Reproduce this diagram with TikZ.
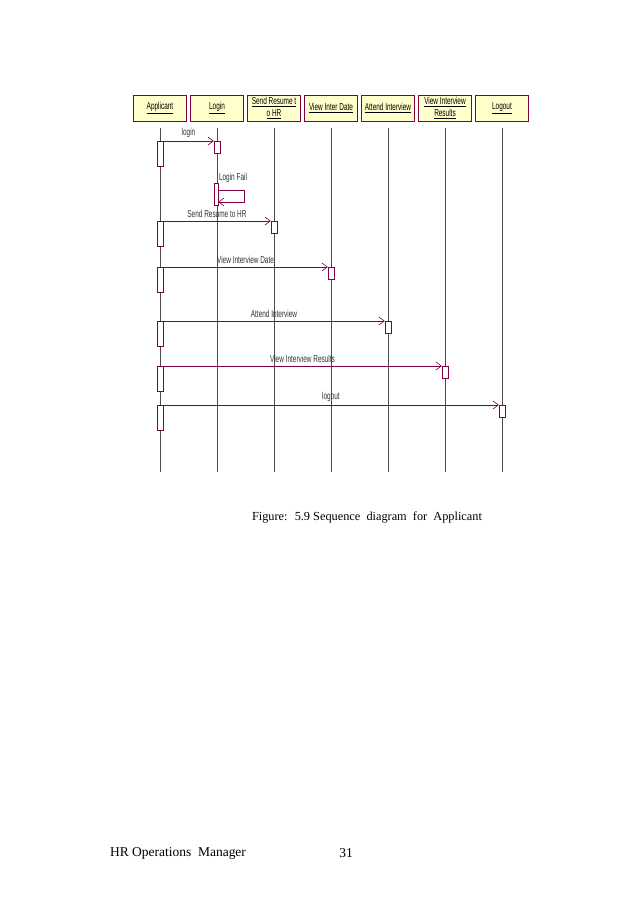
\documentclass[tikz,border=0pt]{standalone}
\usepackage{fontspec}
\setmainfont{Liberation Serif}
\newfontfamily\umlfont[FakeStretch=0.64]{Liberation Sans}
\usepackage{tikz}
\usetikzlibrary{arrows.meta}
\definecolor{umlred}{RGB}{128,0,64}
\definecolor{umlfill}{RGB}{255,255,204}

\begin{document}
\begin{tikzpicture}[x=0.03cm, y=-0.03cm,
    obj/.style={draw=umlred, fill=umlfill, rectangle, minimum width=1.59cm, minimum height=0.78cm,
      inner sep=0.5pt, align=center, font=\umlfont\fontsize{8.6}{9.6}\selectfont},
    life/.style={black!70, line width=0.5pt},
    act/.style={draw=umlred, fill=white, rectangle, inner sep=0, minimum width=0.18cm, anchor=north},
    src/.style={act, minimum height=0.75cm},
    tgt/.style={act, minimum height=0.36cm},
    msg/.style={umlred, line width=0.5pt, -{Straight Barb[length=1.6mm, width=2.4mm]}},
    lbl/.style={text=black!80, font=\umlfont\fontsize{8.6}{9.6}\selectfont, inner sep=0.5pt, above=2.5pt}]
    \useasboundingbox (0,0) rectangle (638,903);
    \fill[white] (0,0) rectangle (638,903);

    % objects
    \node[obj] (app) at (160,108) {\underline{Applicant}};
    \node[obj] (login) at (217,108) {\underline{Login}};
    \node[obj] (resume) at (274,108) {\underline{Send Resume t}\\\underline{o HR}};
    \node[obj] (date) at (331,108) {\underline{View Inter Date}};
    \node[obj] (attend) at (388,108) {\underline{Attend Interview}};
    \node[obj] (result) at (445,108) {\underline{View Interview}\\\underline{Results}};
    \node[obj] (logout) at (502,108) {\underline{Logout}};

    \coordinate (bottom) at (0,472);
    \foreach \n in {app,login,resume,date,attend,result,logout}{
      \draw[life] (\n.south) ++(0,7) -- (\n.south |- bottom);
    }

    % activations
    \node[src] (s1) at (160,141) {};
    \node[tgt] (t1) at (217,141) {};
    \node[src] (s2) at (160,221) {};
    \node[tgt] (t2) at (274,221) {};
    \node[src] (s3) at (160,267) {};
    \node[tgt] (t3) at (331,267) {};
    \node[src] (s4) at (160,321) {};
    \node[tgt] (t4) at (388,321) {};
    \node[src] (s5) at (160,366) {};
    \node[tgt] (t5) at (445,366) {};
    \node[src] (s6) at (160,405) {};
    \node[tgt] (t6) at (502,405) {};
    \node[act, minimum width=0.12cm, minimum height=0.66cm] (fail) at (216,183) {};

    % messages
    \draw[msg] (s1.north east) -- node[lbl] {login} (t1.north west);
    \draw[msg] (fail.north east) ++(0,7) -- ++(26,0) -- ++(0,12) -- ++(-26,0);
    \node[text=black!80, font=\umlfont\fontsize{8.6}{9.6}\selectfont, inner sep=0.5pt, anchor=south west]
      (faillbl) at (fail.north east) {Login Fail};
    \draw[msg] (s2.north east) -- node[lbl] {Send Resume to HR} (t2.north west);
    \draw[msg] (s3.north east) -- node[lbl] {View Interview Date} (t3.north west);
    \draw[msg] (s4.north east) -- node[lbl] {Attend Interview} (t4.north west);
    \draw[msg] (s5.north east) -- node[lbl] {View Interview Results} (t5.north west);
    \draw[msg] (s6.north east) -- node[lbl] {logout} (t6.north west);

    % caption and footer
    \node[font=\fontsize{10.5}{12}\selectfont] (caption) at (367,517) {Figure: \ 5.9 Sequence \ diagram \ for \ Applicant};
    \node[anchor=west, font=\fontsize{11.5}{13}\selectfont] (footer) at (106,853) {HR Operations \ Manager};
    \node[font=\fontsize{11.5}{13}\selectfont] (page) at (346,853) {31};
\end{tikzpicture}
\end{document}
